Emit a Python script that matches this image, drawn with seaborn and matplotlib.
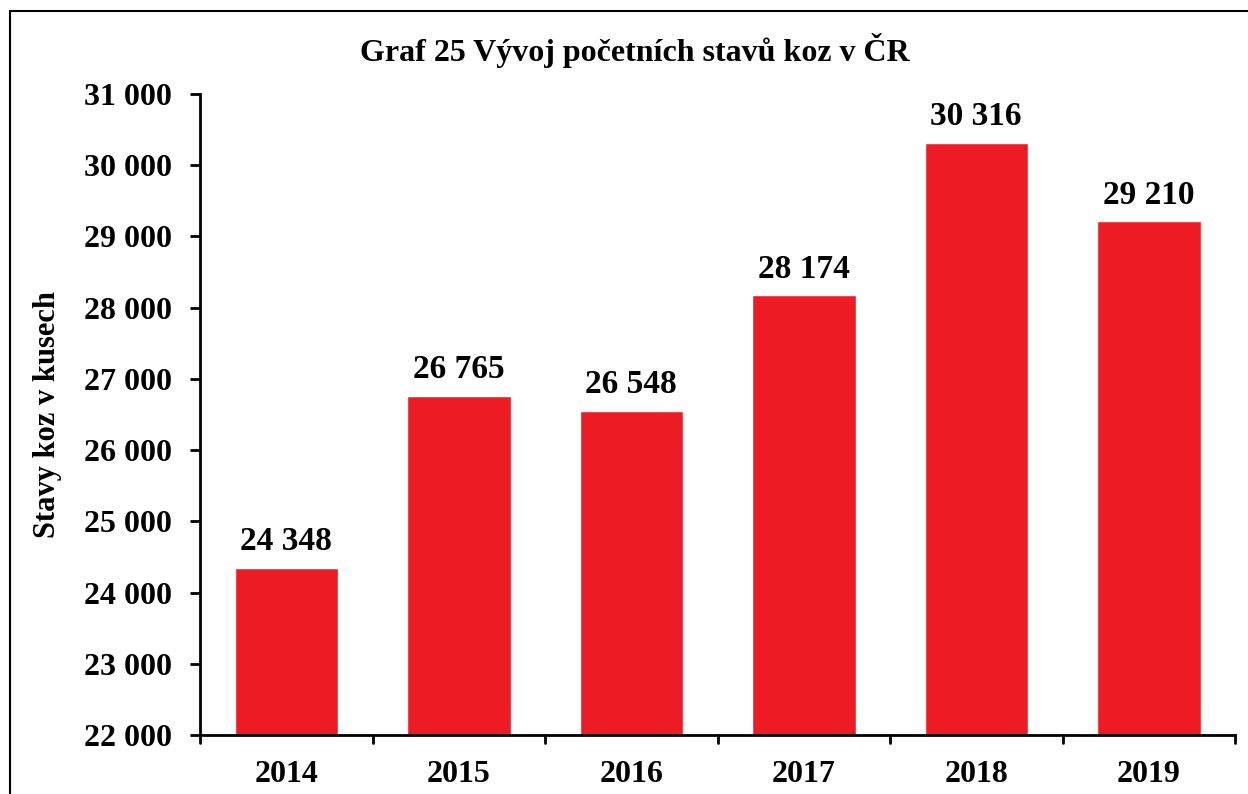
import matplotlib
matplotlib.use("Agg")
import matplotlib.pyplot as plt
import seaborn as sns
import pandas as pd
from matplotlib.patches import Rectangle

roky = ["2014", "2015", "2016", "2017", "2018", "2019"]
stavy = [24348, 26765, 26548, 28174, 30316, 29210]
y_ticks = [22000, 23000, 24000, 25000, 26000, 27000, 28000, 29000, 30000, 31000]

df = pd.DataFrame({"rok": roky, "stav": stavy})


def fmt(v):
    # mezera jako oddelovac tisicu
    return f"{v:,}".replace(",", " ")


sns.set_theme(style="white")
plt.rcParams["font.family"] = ["Liberation Serif", "DejaVu Serif"]
plt.rcParams["font.weight"] = "bold"
plt.rcParams["text.color"] = "black"
plt.rcParams["axes.labelcolor"] = "black"
plt.rcParams["xtick.color"] = "black"
plt.rcParams["ytick.color"] = "black"

fig = plt.figure(figsize=(12.48, 7.94), dpi=100)
ax = fig.add_axes([200 / 1248, 1 - 735 / 794, 1035 / 1248, 641 / 794])

sns.barplot(data=df, x="rok", y="stav", color="#ED1C24", saturation=1,
            width=0.6, ax=ax)

ax.set_ylim(22000, 31000)
ax.set_xlim(-0.5, 5.5)
ax.set_yticks(y_ticks)
ax.set_yticklabels([fmt(t) for t in y_ticks], fontsize=23, fontweight="bold")
ax.set_xticks(range(len(roky)))
ax.set_xticklabels(roky, fontsize=23, fontweight="bold")
ax.tick_params(axis="x", length=0, pad=18)
ax.tick_params(axis="y", length=7, width=2, color="black", direction="out",
               left=True, pad=13)

# tick mezi kategoriemi
for b in [i - 0.5 for i in range(len(roky) + 1)]:
    ax.plot([b, b], [0, -0.013], transform=ax.get_xaxis_transform(),
            color="black", lw=2, clip_on=False)

for s in ["top", "right"]:
    ax.spines[s].set_visible(False)
for s in ["left", "bottom"]:
    ax.spines[s].set_color("black")
    ax.spines[s].set_linewidth(2)

for i, v in enumerate(stavy):
    ax.text(i, v + 150, fmt(v), ha="center", va="bottom", fontsize=24,
            fontweight="bold", color="black")

ax.set_xlabel("")
ax.set_ylabel("Stavy koz v kusech", fontsize=22, fontweight="bold")
ax.yaxis.set_label_coords(-138 / 1035, 0.5)

fig.text(635 / 1248, 1 - 50 / 794, "Graf 25 Vývoj početních stavů koz v ČR",
         ha="center", va="center", fontsize=23, fontweight="bold")

# ramecek kolem grafu
fig.patches.append(Rectangle((10 / 1248, -0.05), 1.2, 1 - 11 / 794 + 0.05,
                             transform=fig.transFigure, fill=False,
                             edgecolor="black", lw=1.5))

fig.savefig("out.png", dpi=100)
